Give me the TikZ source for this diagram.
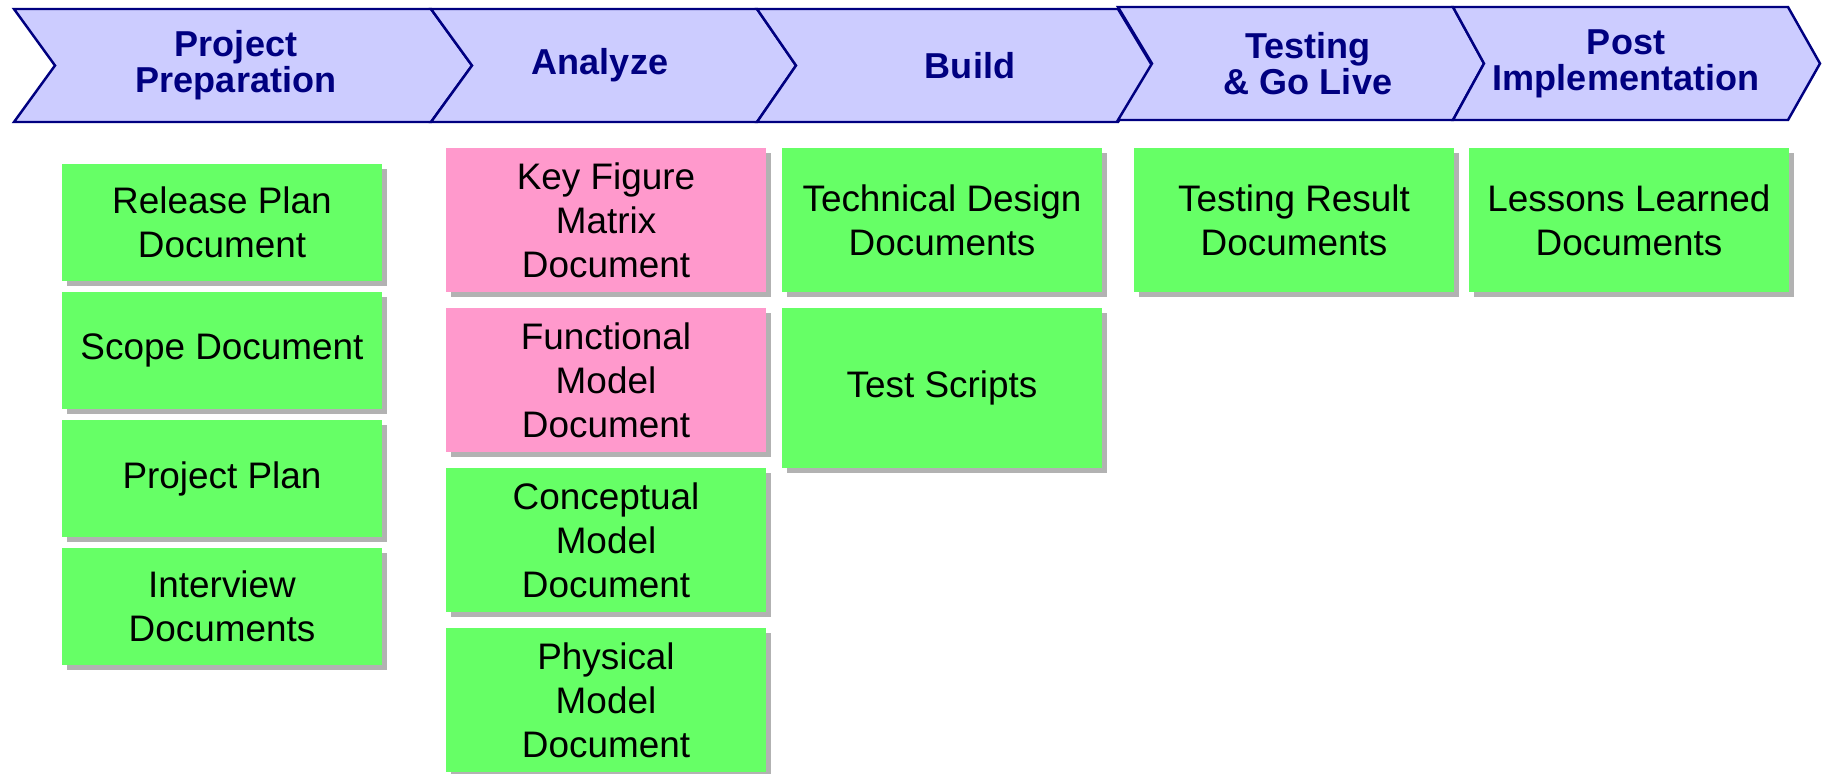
\documentclass[tikz,border=0pt]{standalone}
\usepackage{fontspec}
\setmainfont{Liberation Sans}
\usepackage{xcolor}
\usetikzlibrary{shadows}

\definecolor{phasefill}{RGB}{204,204,255}
\definecolor{phasenavy}{RGB}{0,0,128}
\definecolor{docgreen}{RGB}{102,255,102}
\definecolor{docpink}{RGB}{255,153,204}

\tikzset{
  phase/.style={fill=phasefill, draw=phasenavy, line width=1.4pt, line join=miter},
  phasetext/.style={text=phasenavy, align=center, font=\fontsize{20.5}{20.5}\selectfont\bfseries},
  doc/.style={fill=docgreen, minimum width=6.4cm, inner sep=0pt, align=center,
    font=\fontsize{21}{25}\selectfont,
    drop shadow={shadow xshift=0.1cm, shadow yshift=-0.1cm, fill=black!30, opacity=1}},
  keydoc/.style={doc, fill=docpink}
}

\begin{document}
\begin{tikzpicture}

\useasboundingbox (0,0) rectangle (36.48,-15.46);

% phases:
\draw[phase] (0.28,-0.18) -- (8.62,-0.18) -- (9.44,-1.31) -- (8.62,-2.44) -- (0.28,-2.44) -- (1.10,-1.31) -- cycle;
\draw[phase] (8.62,-0.18) -- (15.14,-0.18) -- (15.92,-1.31) -- (15.14,-2.44) -- (8.62,-2.44) -- (9.44,-1.31) -- cycle;
\draw[phase] (15.14,-0.18) -- (22.36,-0.18) -- (23.04,-1.31) -- (22.36,-2.44) -- (15.14,-2.44) -- (15.92,-1.31) -- cycle;
\draw[phase] (22.36,-0.14) -- (29.06,-0.14) -- (29.68,-1.27) -- (29.06,-2.40) -- (22.36,-2.40) -- (23.04,-1.27) -- cycle;
\draw[phase] (29.06,-0.14) -- (35.76,-0.14) -- (36.40,-1.27) -- (35.76,-2.40) -- (29.06,-2.40) -- (29.68,-1.27) -- cycle;

\node[phasetext] (prep) at (4.72,-1.31) {Project\\Preparation};
\node[phasetext] (analyze) at (12.0,-1.31) {Analyze};
\node[phasetext] (build) at (19.40,-1.31) {Build};
\node[phasetext] (golive) at (26.16,-1.27) {Testing\\\& Go Live};
\node[phasetext] (postimpl) at (32.52,-1.27) {Post\\Implementation};

% 1st column:
\node[doc, minimum height=2.34cm] (relplan) at (4.44,-4.45) {Release Plan\\Document};
\node[doc, minimum height=2.34cm] (scope) at (4.44,-7.01) {Scope Document};
\node[doc, minimum height=2.34cm] (projplan) at (4.44,-9.57) {Project Plan};
\node[doc, minimum height=2.34cm] (interview) at (4.44,-12.13) {Interview\\Documents};

% 2nd column:
\node[keydoc, minimum height=2.88cm] (keyfig) at (12.12,-4.4) {Key Figure\\Matrix\\Document};
\node[keydoc, minimum height=2.88cm] (funcmodel) at (12.12,-7.6) {Functional\\Model\\Document};
\node[doc, minimum height=2.88cm] (concmodel) at (12.12,-10.8) {Conceptual\\Model\\Document};
\node[doc, minimum height=2.88cm] (physmodel) at (12.12,-14.0) {Physical\\Model\\Document};

% 3rd column:
\node[doc, minimum height=2.88cm] (techdesign) at (18.84,-4.4) {Technical Design\\Documents};
\node[doc, minimum height=3.2cm] (testscripts) at (18.84,-7.76) {Test Scripts};

% 4th and 5th column:
\node[doc, minimum height=2.88cm] (testresult) at (25.88,-4.4) {Testing Result\\Documents};
\node[doc, minimum height=2.88cm] (lessons) at (32.58,-4.4) {Lessons Learned\\Documents};

\end{tikzpicture}
\end{document}
